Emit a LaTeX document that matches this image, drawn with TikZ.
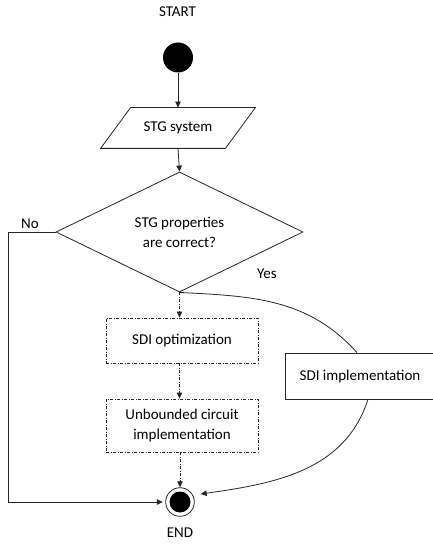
\documentclass[tikz,border=0pt]{standalone}
\usepackage{fontspec}
\setmainfont{Carlito}
\usetikzlibrary{shapes.geometric,arrows.meta,calc}
\begin{document}
\begin{tikzpicture}[x=1pt,y=-1pt,
  font=\fontsize{15}{20}\selectfont,
  line width=0.8pt, draw=black!85,
  >={Triangle[length=6pt,width=5.5pt]},
  dd/.style={dash pattern=on 3pt off 1.5pt on 1pt off 1.5pt},
  box/.style={draw, rectangle, inner sep=0pt, align=center},
  lbl/.style={inner sep=0pt}]
\useasboundingbox (0,0) rectangle (432,548);
% nodes
\node[lbl] (starttxt) at (177.5,12) {START};
\node[circle, fill=black, minimum size=30, inner sep=0] (start) at (178,57.5) {};
\node[minimum width=124, minimum height=40, inner sep=0] (stg) at (178,128) {STG system};
\draw ([xshift=15]stg.north west) -- ([xshift=15]stg.north east)
  -- ([xshift=-15]stg.south east) -- ([xshift=-15]stg.south west) -- cycle;
\node[diamond, draw, minimum width=247, minimum height=96, inner sep=0, align=center] (dec) at (179.5,232) {STG properties\\are correct?};
\node[box, dd, minimum width=152, minimum height=45] (opt) at (182,340.5) {SDI optimization};
\node[box, dd, minimum width=152, minimum height=53] (unb) at (182,425.5) {Unbounded circuit\\implementation};
\node[box, minimum width=150, minimum height=46] (impl) at (360,376) {SDI implementation};
\node[circle, draw, minimum size=28.6, inner sep=0] (end) at (180,502) {};
\node[circle, fill=black, minimum size=21, inner sep=0] (endin) at (180,502) {};
\node[lbl] (endtxt) at (180,533) {END};
\node[lbl] (no) at (30,224) {No};
\node[lbl] (yes) at (267,274) {Yes};
% connectors
\draw[->] (start) -- (stg.north);
\draw[->] (stg.south) -- (dec.north);
\draw[->, shorten >=2.5pt] (dec.west) -- ++(-47.5,0) |- (end.west);
\draw[->, dd] (dec.south) -- (dec.south |- opt.north);
\draw[->, dd] (opt.south -| dec.south) -- (dec.south |- unb.north);
\draw[->, dd] (unb.south -| end.north) -- (end.north);
\draw (dec.south) to[out=-3, in=132] ([xshift=-3]impl.north);
\draw[->] ([xshift=8]impl.south) to[out=-108, in=8] ([shift={(6,-8)}]end.east);
\end{tikzpicture}
\end{document}
